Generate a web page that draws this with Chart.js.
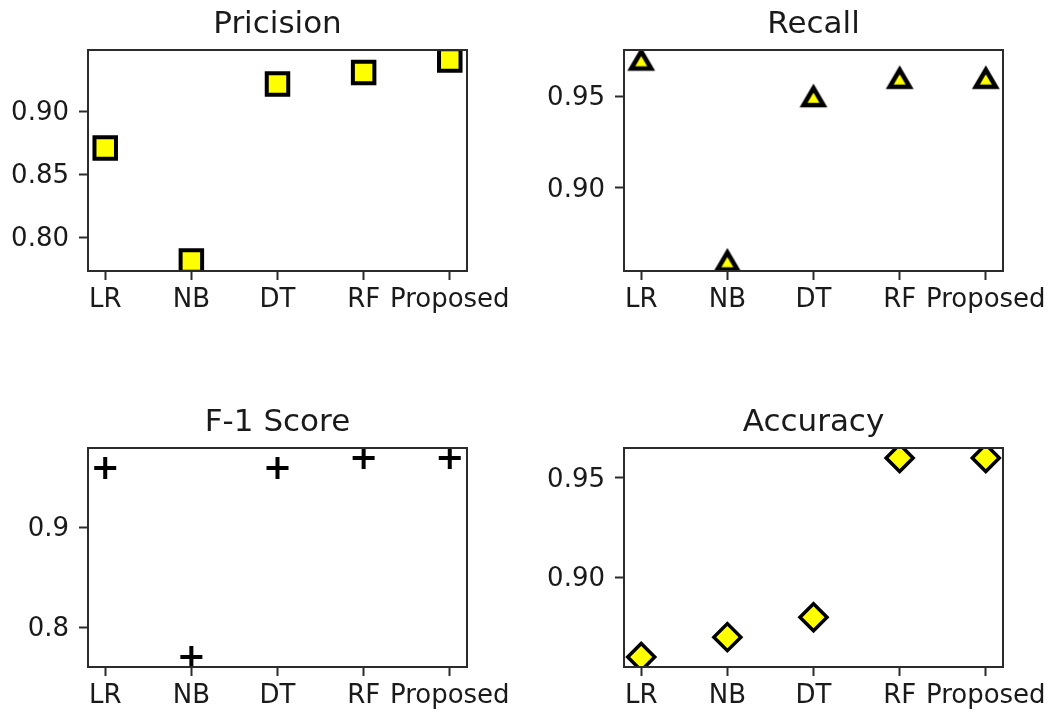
<!DOCTYPE html>
<html><head><meta charset="utf-8">
<script src="https://cdn.jsdelivr.net/npm/chart.js@4/dist/chart.umd.min.js"></script>
<style>
html,body{margin:0;padding:0;background:#fff;}
#wrap{position:relative;width:1061px;height:714px;overflow:hidden;background:#fff;}
canvas{position:absolute;}
</style></head><body>
<div id="wrap">
<canvas id="c1" width="530" height="357" style="left:0;top:0"></canvas>
<canvas id="c2" width="531" height="357" style="left:530px;top:0"></canvas>
<canvas id="c3" width="530" height="357" style="left:0;top:357px"></canvas>
<canvas id="c4" width="531" height="357" style="left:530px;top:357px"></canvas>
</div>
<script>
const categories = ['LR', 'NB', 'DT', 'RF', 'Proposed'];
const precisionValues = [0.871, 0.781, 0.922, 0.931, 0.941];
const recallValues = [0.97, 0.86, 0.95, 0.96, 0.96];
const f1Values = [0.96, 0.77, 0.96, 0.97, 0.97];
const accuracyValues = [0.86, 0.87, 0.88, 0.96, 0.96];
const precisionTicks = [0.80, 0.85, 0.90];
const precisionTickLabels = ['0.80', '0.85', '0.90'];
const recallTicks = [0.90, 0.95];
const recallTickLabels = ['0.90', '0.95'];
const f1Ticks = [0.8, 0.9];
const f1TickLabels = ['0.8', '0.9'];
const accuracyTicks = [0.90, 0.95];
const accuracyTickLabels = ['0.90', '0.95'];

const FONT = 'DejaVu Sans';
const TEXT = '#1a1a1a';
const YELLOW = '#ffff00';

function triangleMarker(w, h, lw) {
  const pad = Math.ceil(lw * 2) + 2;
  const c = document.createElement('canvas');
  c.width = w + 2 * pad; c.height = h + 2 * pad;
  const g = c.getContext('2d');
  const cx = c.width / 2, cy = c.height / 2;
  g.beginPath();
  g.moveTo(cx, cy - h / 2);
  g.lineTo(cx + w / 2, cy + h / 2);
  g.lineTo(cx - w / 2, cy + h / 2);
  g.closePath();
  g.fillStyle = YELLOW; g.fill();
  g.lineJoin = 'miter'; g.lineWidth = lw; g.strokeStyle = '#000'; g.stroke();
  return c;
}

const boxPlugin = {
  id: 'box',
  afterDatasetsDraw(chart) {
    const { ctx, chartArea: a } = chart;
    ctx.save();
    ctx.strokeStyle = '#2b2b2b';
    ctx.lineWidth = 2;
    ctx.strokeRect(a.left, a.top, a.right - a.left, a.bottom - a.top);
    ctx.restore();
  }
};

function makeChart(id, title, values, ticks, tickLabels, cfg) {
  const vmin = Math.min(...values), vmax = Math.max(...values);
  const m = (vmax - vmin) * 0.05;
  new Chart(document.getElementById(id), {
    type: 'scatter',
    data: {
      datasets: [Object.assign({
        data: values.map((v, i) => ({ x: i, y: v })),
        clip: 0,
        showLine: false
      }, cfg.point)]
    },
    options: {
      responsive: false,
      animation: false,
      events: [],
      layout: { padding: { top: cfg.padTop, right: cfg.padRight, bottom: 0, left: 0 } },
      plugins: {
        legend: { display: false },
        tooltip: { enabled: false },
        title: {
          display: true, text: title, fullSize: false, color: TEXT,
          font: { family: FONT, size: 31, weight: 'normal', lineHeight: 1.2 },
          padding: { top: 6.5, bottom: 6.3 }
        }
      },
      scales: {
        x: {
          type: 'linear', min: -0.2, max: 4.2,
          afterBuildTicks: s => { s.ticks = categories.map((c, i) => ({ value: i })); },
          afterFit: s => { s.height = cfg.xHeight; },
          ticks: {
            autoSkip: false, maxRotation: 0, minRotation: 0, padding: 5, color: TEXT,
            font: { family: FONT, size: 26 },
            callback: v => categories[v]
          },
          grid: { drawOnChartArea: false, tickLength: 9, tickWidth: 2, tickColor: '#2b2b2b' },
          border: { display: false }
        },
        y: {
          type: 'linear', min: vmin - m, max: vmax + m,
          afterBuildTicks: s => { s.ticks = ticks.map(v => ({ value: v })); },
          afterFit: s => { s.width = cfg.yWidth; },
          ticks: {
            autoSkip: false, padding: 10, color: TEXT, labelOffset: 2,
            font: { family: FONT, size: 26 },
            callback: (v, i) => tickLabels[i]
          },
          grid: { drawOnChartArea: false, tickLength: 9, tickWidth: 2, tickColor: '#2b2b2b' },
          border: { display: false }
        }
      }
    },
    plugins: [boxPlugin]
  });
}

makeChart('c1', 'Pricision', precisionValues, precisionTicks, precisionTickLabels, {
  padTop: 0, padRight: 63, xHeight: 86, yWidth: 88,
  point: { pointStyle: 'rect', pointRadius: 15.2, pointBackgroundColor: YELLOW, pointBorderColor: '#000', pointBorderWidth: 4 }
});
makeChart('c2', 'Recall', recallValues, recallTicks, recallTickLabels, {
  padTop: 0, padRight: 58, xHeight: 86, yWidth: 94,
  point: { pointStyle: triangleMarker(20, 17, 4.5), pointRadius: 11 }
});
makeChart('c3', 'F-1 Score', f1Values, f1Ticks, f1TickLabels, {
  padTop: 41, padRight: 63, xHeight: 47, yWidth: 88,
  point: { pointStyle: 'cross', pointRadius: 11, pointBorderColor: '#000', pointBorderWidth: 4 }
});
makeChart('c4', 'Accuracy', accuracyValues, accuracyTicks, accuracyTickLabels, {
  padTop: 41, padRight: 58, xHeight: 47, yWidth: 94,
  point: { pointStyle: 'rectRot', pointRadius: 13.5, pointBackgroundColor: YELLOW, pointBorderColor: '#000', pointBorderWidth: 3.5 }
});
</script>
</body></html>
